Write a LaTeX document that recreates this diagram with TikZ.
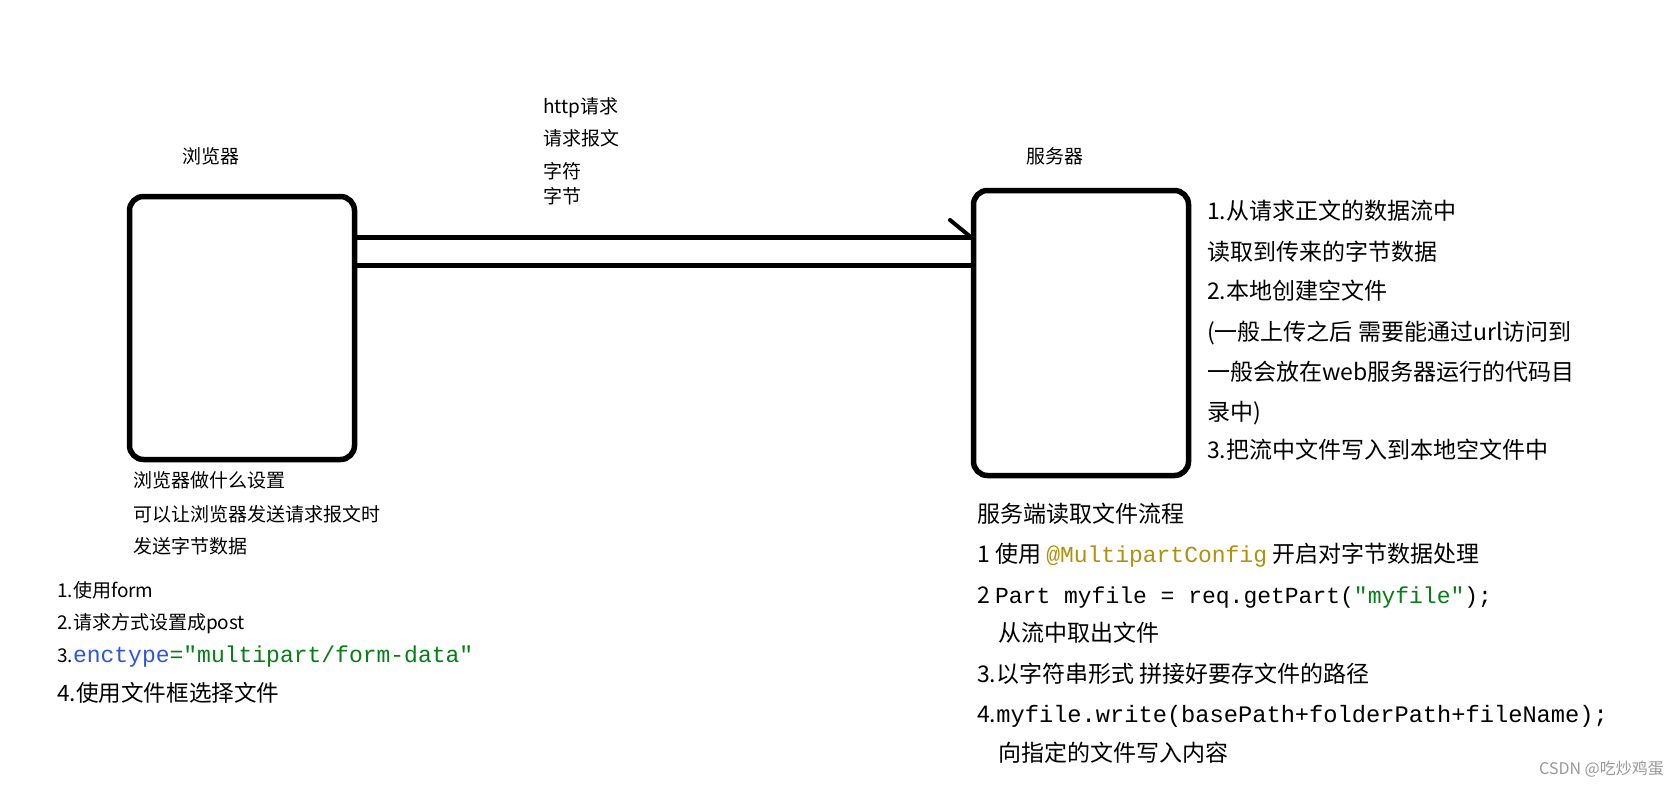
\documentclass[tikz,border=0pt]{standalone}
\usepackage{fontspec}
\setmainfont{Noto Sans CJK SC}
\setmonofont{Liberation Mono}
\definecolor{kwblue}{RGB}{45,85,225}
\definecolor{strgreen}{RGB}{6,125,23}
\definecolor{annogold}{RGB}{175,145,15}
\newcommand{\codefont}{\fontsize{23}{23}\selectfont\ttfamily}

\begin{document}
\begin{tikzpicture}[x=1pt,y=-1pt,
  box/.style={draw,line width=5.5pt,rounded corners=14pt,inner sep=0pt},
  wire/.style={line width=5pt},
  small/.style={anchor=base west,inner sep=0pt,font=\fontsize{19}{19}\selectfont},
  big/.style={anchor=base west,inner sep=0pt,font=\fontsize{23}{23}\selectfont}]
\fill[white] (0,0) rectangle (1678,788);
\useasboundingbox (0,0) rectangle (1678,788);

\node[box,minimum width=225pt,minimum height=263pt] (browser) at (242,328) {};
\node[box,minimum width=215pt,minimum height=285pt] (server) at (1081,333) {};
\node[small,anchor=base] (browserlbl) at (211,163) {浏览器};
\node[small,anchor=base] (serverlbl) at (1055,163) {服务器};

\node[small] (http) at (543,113) {http请求};
\node[small] (msg) at (543,145) {请求报文};
\node[small] (chars) at (543,178) {字符};
\node[small] (bytes) at (543,203) {字节};

\node[small] (bq1) at (133,487) {浏览器做什么设置};
\node[small] (bq2) at (133,521) {可以让浏览器发送请求报文时};
\node[small] (bq3) at (133,553) {发送字节数据};

\node[small] (b1) at (57,597) {1.使用form};
\node[small] (b2) at (57,629) {2.请求方式设置成post};
\node[small] (b3) at (57,662) {3.{\codefont\color{kwblue}enctype}{\codefont\color{strgreen}="multipart/form-data"}};
\node[big,font=\fontsize{22.6}{23}\selectfont] (b4) at (57,701) {4.使用文件框选择文件};

\node[big] (s1) at (1207,219) {1.从请求正文的数据流中};
\node[big] (s2) at (1207,260) {读取到传来的字节数据};
\node[big] (s3) at (1207,299) {2.本地创建空文件};
\node[big] (s4) at (1207,340) {(一般上传之后 需要能通过url访问到};
\node[big] (s5) at (1207,380) {一般会放在web服务器运行的代码目};
\node[big] (s6) at (1207,420) {录中)};
\node[big] (s7) at (1207,458) {3.把流中文件写入到本地空文件中};

\node[big] (r0) at (977,522) {服务端读取文件流程};
\node[big] (r1) at (977,562) {1 使用 {\codefont\color{annogold}@MultipartConfig} 开启对字节数据处理};
\node[big] (r2) at (977,603) {2 {\codefont Part myfile = req.getPart(\textcolor{strgreen}{"myfile"});}};
\node[big] (r2b) at (998,641) {从流中取出文件};
\node[big] (r3) at (977,682) {3.以字符串形式 拼接好要存文件的路径};
\node[big] (r4) at (977,722) {4.{\codefont\fontsize{23.7}{24}\selectfont myfile.write(basePath+folderPath+fileName);}};
\node[big] (r4b) at (998,761) {向指定的文件写入内容};

\node[anchor=base east,inner sep=0pt,text=black!40,font=\fontsize{16}{16}\selectfont] (mark) at (1664,774) {CSDN @吃炒鸡蛋};

\coordinate (tick) at (950,220);
\draw[wire] ([yshift=91pt]browser.east) -- ([yshift=96pt]server.west);
\draw[wire] ([yshift=63pt]browser.east) -- ([yshift=68pt]server.west);
\draw[line width=4pt,line cap=round] (tick) -- ([yshift=96pt]server.west);
\end{tikzpicture}
\end{document}
